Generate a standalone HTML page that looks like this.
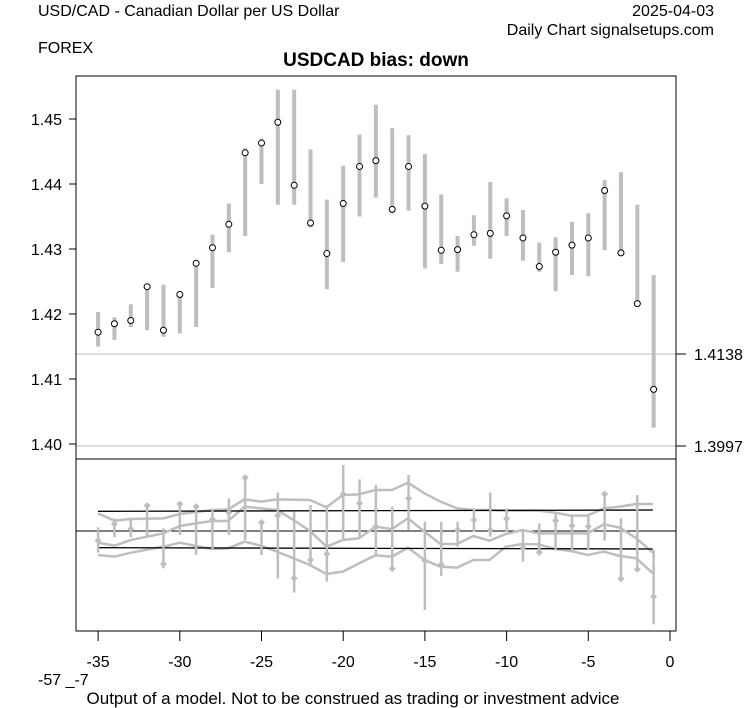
<!DOCTYPE html><html><head><style>body{margin:0;background:#fff}svg{display:block}text{font-family:"Liberation Sans",Arial,sans-serif;fill:#000}</style></head><body>
<svg id="s" width="753" height="708" xmlns="http://www.w3.org/2000/svg">
<text x="38" y="16" font-size="16">USD/CAD - Canadian Dollar per US Dollar</text>
<text x="714" y="16" font-size="16" text-anchor="end">2025-04-03</text>
<text x="714" y="35" font-size="16" text-anchor="end">Daily Chart signalsetups.com</text>
<text x="38" y="53" font-size="16">FOREX</text>
<text x="376" y="66" font-size="19" font-weight="bold" text-anchor="middle">USDCAD bias: down</text>
<line x1="76" y1="354" x2="676" y2="354" stroke="#bebebe"/>
<line x1="76" y1="446" x2="676" y2="446" stroke="#bebebe"/>
<g id="main"></g>
<rect x="76" y="76" width="600" height="383" fill="none" stroke="#000"/>
<rect x="76" y="459" width="600" height="172" fill="none" stroke="#000"/>
<g font-size="16" text-anchor="end">
<line x1="69" y1="119" x2="76" y2="119" stroke="#000"/><text x="62" y="125">1.45</text>
<line x1="69" y1="184" x2="76" y2="184" stroke="#000"/><text x="62" y="190">1.44</text>
<line x1="69" y1="249" x2="76" y2="249" stroke="#000"/><text x="62" y="255">1.43</text>
<line x1="69" y1="314" x2="76" y2="314" stroke="#000"/><text x="62" y="320">1.42</text>
<line x1="69" y1="379" x2="76" y2="379" stroke="#000"/><text x="62" y="385">1.41</text>
<line x1="69" y1="444" x2="76" y2="444" stroke="#000"/><text x="62" y="450">1.40</text>
</g>
<g font-size="16">
<line x1="676" y1="354" x2="686" y2="354" stroke="#000"/><text x="694" y="360">1.4138</text>
<line x1="676" y1="446" x2="686" y2="446" stroke="#000"/><text x="694" y="452">1.3997</text>
</g>
<g id="low"></g>
<g id="xt" font-size="16" text-anchor="middle"></g>
<text x="38" y="685" font-size="16">-57 _-7</text>
<text x="353" y="704" font-size="17" text-anchor="middle">Output of a model. Not to be construed as trading or investment advice</text>
</svg>
<script>
var NS="http://www.w3.org/2000/svg";
function el(p,t,a){var e=document.createElementNS(NS,t);for(var k in a)e.setAttribute(k,a[k]);p.appendChild(e);return e;}
var d=[[1.4172,1.415,1.4203],[1.4185,1.416,1.4195],[1.419,1.418,1.4215],[1.4242,1.4175,1.4245],[1.4175,1.4165,1.4245],[1.423,1.417,1.4235],[1.4278,1.418,1.428],[1.4302,1.424,1.4322],[1.4338,1.4295,1.437],[1.4448,1.432,1.4455],[1.4463,1.440,1.447],[1.4495,1.4368,1.4545],[1.4398,1.4368,1.4545],[1.434,1.4333,1.4453],[1.4293,1.4238,1.4376],[1.437,1.428,1.4428],[1.4427,1.435,1.4476],[1.4436,1.4379,1.4522],[1.4361,1.4355,1.4486],[1.4427,1.4359,1.4475],[1.4366,1.427,1.4446],[1.4298,1.4277,1.4384],[1.4299,1.4265,1.432],[1.4322,1.4305,1.4352],[1.4324,1.4285,1.4403],[1.4351,1.432,1.4378],[1.4317,1.4282,1.436],[1.4273,1.4265,1.431],[1.4295,1.4235,1.4318],[1.4306,1.426,1.4342],[1.4317,1.4258,1.4355],[1.439,1.4298,1.4406],[1.4294,1.4292,1.4418],[1.4216,1.4215,1.4368],[1.4084,1.4025,1.426]];
function Y(v){return 444-(v-1.40)*6500;}
function X(i){return 670+16.34*(i-35);}
var m=document.getElementById("main");
d.forEach(function(r,i){var x=X(i);el(m,"line",{x1:x,x2:x,y1:Y(r[1]),y2:Y(r[2]),stroke:"#bebebe","stroke-width":4});});
d.forEach(function(r,i){el(m,"circle",{cx:X(i),cy:Y(r[0]),r:3,fill:"#fff",stroke:"#000"});});
var lo=document.getElementById("low");
function zx(x){return 60+(x-96)/2.4907+38;} function zy(y){return 450+y/3;}
function pl(pts,col,w){el(lo,"polyline",{points:pts.map(function(p){return zx(p[0])+","+zy(p[1]);}).join(" "),fill:"none",stroke:col,"stroke-width":w});}
el(lo,"line",{x1:76,x2:676,y1:531,y2:531,stroke:"#000"});
var up=[[96,190],[137,212],[178,207],[259,205],[300,192],[380,180],[420,178],[461,148],[502,155],[542,148],[624,150],[665,172],[706,135],[746,133],[787,120],[828,120],[868,98],[909,130],[949,155],[990,175],[1031,180],[1071,180],[1112,182],[1193,182],[1234,188],[1274,197],[1315,197],[1356,175],[1396,170],[1437,162],[1478,162]];
var mid=[[96,278],[137,287],[178,270],[259,250],[300,228],[340,220],[380,213],[420,213],[461,170],[502,175],[542,180],[583,210],[624,243],[665,290],[706,270],[746,265],[787,230],[828,237],[868,205],[909,245],[949,282],[990,282],[1031,258],[1071,272],[1112,252],[1153,240],[1193,250],[1234,250],[1274,250],[1315,250],[1356,223],[1396,233],[1437,265],[1478,308]];
var low=[[96,315],[137,320],[178,308],[259,290],[300,278],[340,288],[380,297],[420,295],[461,275],[502,287],[542,305],[583,325],[624,345],[665,372],[706,365],[746,340],[787,316],[828,320],[868,293],[909,330],[949,350],[990,353],[1031,330],[1071,330],[1112,290],[1153,282],[1193,283],[1234,297],[1274,303],[1315,315],[1356,305],[1396,318],[1437,325],[1478,370]];
pl(up,"#bebebe",2.5);pl(mid,"#bebebe",2.5);pl(low,"#bebebe",2.5);
pl([[96,184],[1478,180]],"#000",1.3);pl([[96,293],[1478,297]],"#000",1.3);
var pts=[[272,232,308],[222,205,262],[237,205,262],[167,165,260],[342,235,355],[162,155,255],[170,165,315],[208,180,300],[188,145,255],[83,75,270],[217,215,315],[197,128,385],[385,185,428],[330,165,350],[312,165,395],[132,45,270],[160,88,265],[230,105,315],[356,170,360],[145,75,240],[332,215,480],[343,215,378],[240,215,290],[210,175,245],[240,128,260],[206,175,245],[293,245,335],[307,220,315],[212,185,300],[227,195,300],[229,195,300],[132,128,272],[386,205,395],[358,135,360],[440,300,523]];
pts.forEach(function(p,i){var x=X(i);el(lo,"line",{x1:x,x2:x,y1:zy(p[1]),y2:zy(p[2]),stroke:"#bebebe","stroke-width":2.5});var y=zy(p[0]);el(lo,"polygon",{points:(x-3.5)+","+y+" "+x+","+(y-3.5)+" "+(x+3.5)+","+y+" "+x+","+(y+3.5),fill:"#bebebe"});});
var xt=document.getElementById("xt");
[-35,-30,-25,-20,-15,-10,-5,0].forEach(function(v){var x=670+16.34*v;el(xt,"line",{x1:x,x2:x,y1:631,y2:641,stroke:"#000"});var t=el(xt,"text",{x:x,y:667});t.textContent=v;});
</script>
</body></html>
